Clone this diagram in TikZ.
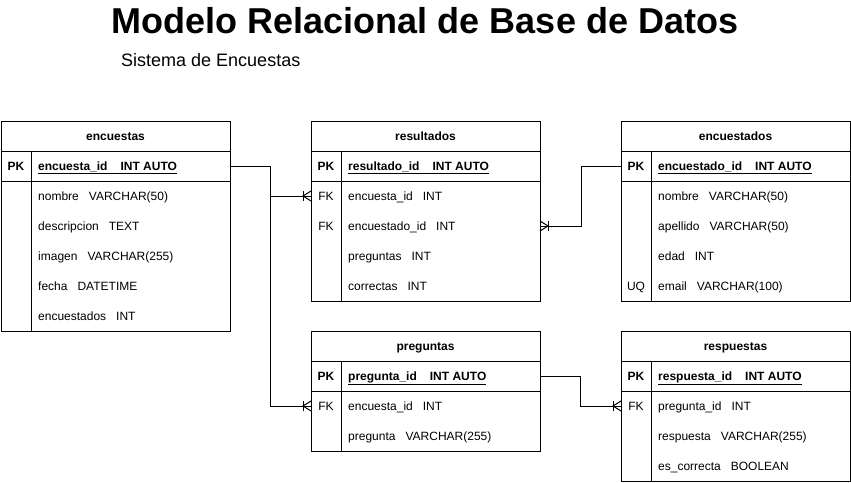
\documentclass[tikz,border=0pt]{standalone}
\usepackage{fontspec}
\setmainfont{Liberation Sans}
\begin{document}
\begin{tikzpicture}[x=1pt,y=-1pt,
  tbl/.style={draw, line width=1pt, inner sep=0pt, outer sep=0pt, anchor=north west},
  cell/.style={font=\fontsize{12}{14}\selectfont, inner sep=0pt, anchor=west, text height=8.6pt, text depth=0pt},
  keycell/.style={font=\fontsize{12}{14}\selectfont, inner sep=0pt, text height=8.6pt, text depth=0pt},
  pkcell/.style={font=\bfseries\fontsize{12}{14}\selectfont, inner sep=0pt, text height=8.6pt, text depth=0pt},
  conn/.style={line width=1pt},
  crowL/.pic={\draw[conn] (-8,-5) -- (-8,5); \draw[conn] (0,-5) -- (-8,0) -- (0,5);},
  crowR/.pic={\draw[conn] (8,-5) -- (8,5); \draw[conn] (0,-5) -- (8,0) -- (0,5);},
]
\useasboundingbox (0,0) rectangle (851,482);
\newcommand\ertable[6]{%
  \node[tbl, minimum width=#4pt, minimum height={(60+30*#5)*1pt}] (#1) at (#2,#3) {};
  \draw[line width=1pt] ([yshift=-30pt]#1.north west) -- ([yshift=-30pt]#1.north east);
  \draw[line width=1pt] ([yshift=-60pt]#1.north west) -- ([yshift=-60pt]#1.north east);
  \draw[line width=1pt] ([xshift=30pt,yshift=-30pt]#1.north west) -- ([xshift=30pt]#1.south west);
  \node[pkcell] (#1-title) at ([yshift=-15pt]#1.north) {#6};
  \node[pkcell] (#1-pkkey) at ([xshift=15pt,yshift=-45pt]#1.north west) {PK};
}
\newcommand\errow[4]{% table, index, key, text
  \node[cell] (#1-r#2) at ([xshift=37pt,yshift={-45pt-30pt*#2}]#1.north west) {#4};
  \node[keycell] (#1-k#2) at ([xshift=15pt,yshift={-45pt-30pt*#2}]#1.north west) {#3};
}
\newcommand\erpk[2]{%
  \node[cell, font=\bfseries\fontsize{12}{14}\selectfont] (#1-r0) at ([xshift=37pt,yshift=-45pt]#1.north west) {\underline{#2}};
}

\node[font=\bfseries\fontsize{36}{40}\selectfont, anchor=base, inner sep=0pt] (title) at (425,33) {Modelo Relacional de Base de Datos};
\node[font=\fontsize{18}{20}\selectfont, anchor=base west, inner sep=0pt] (subtitle) at (121,66) {Sistema de Encuestas};

% encuestas
\ertable{encuestas}{1}{121}{229}{5}{encuestas}
\erpk{encuestas}{encuesta\_id\hspace{13pt}INT AUTO}
\errow{encuestas}{1}{}{nombre\hspace{10pt}VARCHAR(50)}
\errow{encuestas}{2}{}{descripcion\hspace{10pt}TEXT}
\errow{encuestas}{3}{}{imagen\hspace{10pt}VARCHAR(255)}
\errow{encuestas}{4}{}{fecha\hspace{10pt}DATETIME}
\errow{encuestas}{5}{}{encuestados\hspace{10pt}INT}

% resultados
\ertable{resultados}{311}{121}{229}{4}{resultados}
\erpk{resultados}{resultado\_id\hspace{13pt}INT AUTO}
\errow{resultados}{1}{FK}{encuesta\_id\hspace{10pt}INT}
\errow{resultados}{2}{FK}{encuestado\_id\hspace{10pt}INT}
\errow{resultados}{3}{}{preguntas\hspace{10pt}INT}
\errow{resultados}{4}{}{correctas\hspace{10pt}INT}

% encuestados
\ertable{encuestados}{621}{121}{229}{4}{encuestados}
\erpk{encuestados}{encuestado\_id\hspace{13pt}INT AUTO}
\errow{encuestados}{1}{}{nombre\hspace{10pt}VARCHAR(50)}
\errow{encuestados}{2}{}{apellido\hspace{10pt}VARCHAR(50)}
\errow{encuestados}{3}{}{edad\hspace{10pt}INT}
\errow{encuestados}{4}{UQ}{email\hspace{10pt}VARCHAR(100)}

% preguntas
\ertable{preguntas}{311}{331}{229}{2}{preguntas}
\erpk{preguntas}{pregunta\_id\hspace{13pt}INT AUTO}
\errow{preguntas}{1}{FK}{encuesta\_id\hspace{10pt}INT}
\errow{preguntas}{2}{}{pregunta\hspace{10pt}VARCHAR(255)}

% respuestas
\ertable{respuestas}{621}{331}{229}{3}{respuestas}
\erpk{respuestas}{respuesta\_id\hspace{13pt}INT AUTO}
\errow{respuestas}{1}{FK}{pregunta\_id\hspace{10pt}INT}
\errow{respuestas}{2}{}{respuesta\hspace{10pt}VARCHAR(255)}
\errow{respuestas}{3}{}{es\_correcta\hspace{10pt}BOOLEAN}

% connectors
\coordinate (c1) at (resultados.west |- resultados-r1);
\coordinate (c2) at (preguntas.west |- preguntas-r1);
\coordinate (c3) at (resultados.east |- resultados-r2);
\coordinate (c4) at (respuestas.west |- respuestas-r1);
\draw[conn] (encuestas.east |- encuestas-r0) -- ++(40,0) |- (c1);
\draw[conn] (encuestas.east |- encuestas-r0) -- ++(40,0) |- (c2);
\draw[conn] (encuestados.west |- encuestados-r0) -- ++(-40,0) |- (c3);
\draw[conn] (preguntas.east |- preguntas-r0) -- ++(40,0) |- (c4);
\pic at (c1) {crowL};
\pic at (c2) {crowL};
\pic at (c3) {crowR};
\pic at (c4) {crowL};
\end{tikzpicture}
\end{document}
